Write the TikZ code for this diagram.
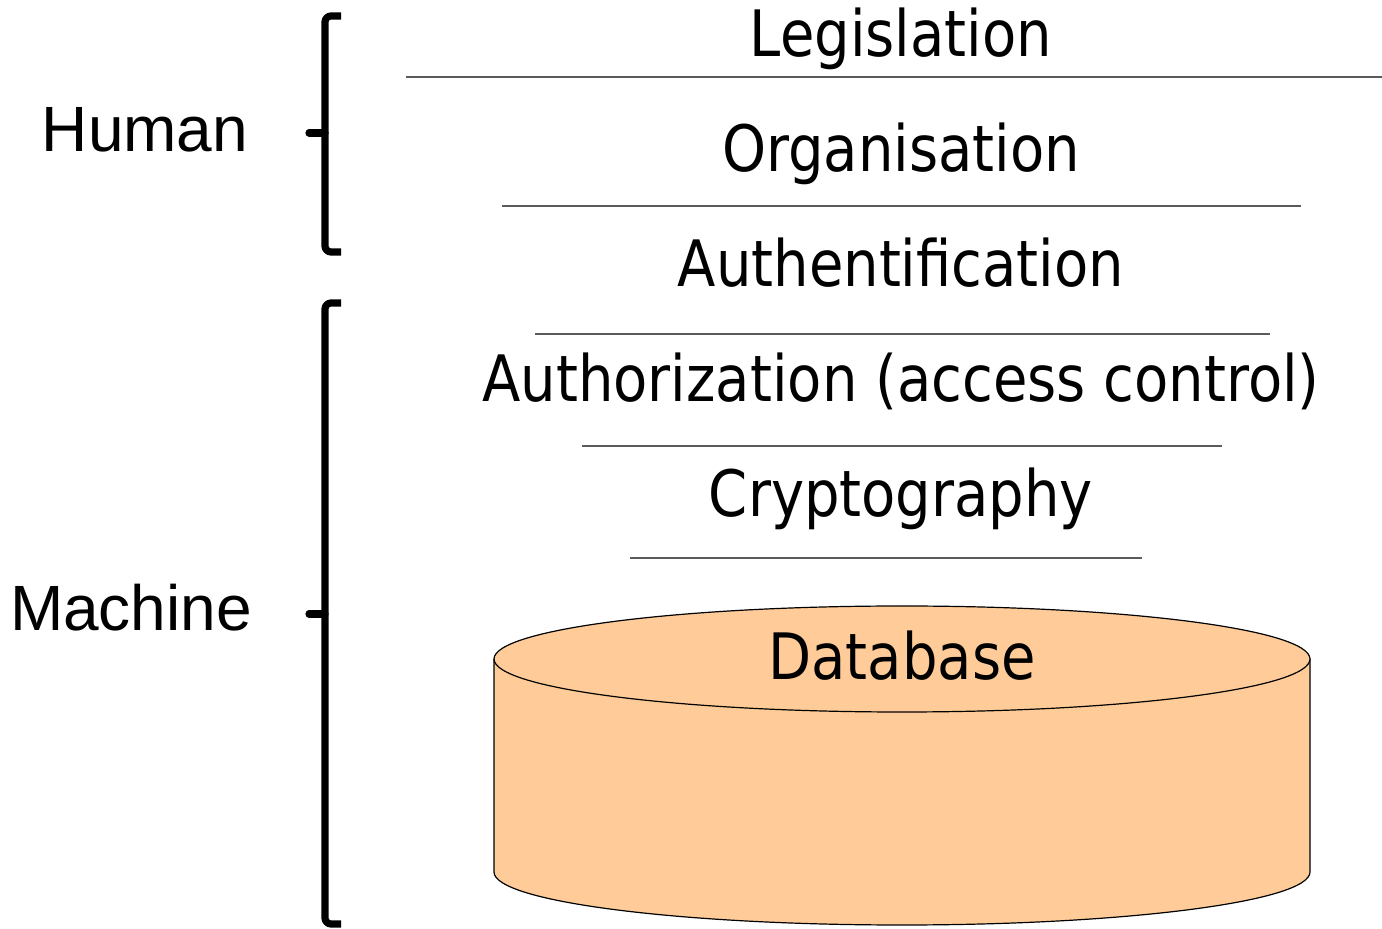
\documentclass[tikz,border=0pt]{standalone}
\usepackage{fontspec}
\setmainfont{DejaVu Sans}
\newfontfamily\sidefont{Liberation Sans}
\definecolor{dbfill}{RGB}{255,204,153}
\definecolor{rulegray}{RGB}{90,90,90}

\begin{document}
\begin{tikzpicture}[line join=round,x=0.5pt,y=-0.5pt,
		layer/.style={anchor=base,font=\fontsize{32}{38}\selectfont,xscale=0.875,inner sep=0pt},
		side/.style={anchor=base,font=\sidefont\fontsize{32}{38}\selectfont,inner sep=0pt},
		sep/.style={line width=1pt,color=rulegray},
		brace/.style={line width=3.6pt,rounded corners=3pt}]
				\useasboundingbox (0,0) rectangle (1382,929);
				% layers, top to bottom
				\node[layer] (legis) at (901,57) {Legislation};
				\draw[sep] (406,77) -- (1382,77);
				\node[layer] (orga) at (901,172) {Organisation};
				\draw[sep] (502,206) -- (1301,206);
				\node[layer] (authent) at (901,287) {Authentification};
				\draw[sep] (535,334) -- (1270,334);
				\node[layer] (author) at (901,402) {Authorization (access control)};
				\draw[sep] (582,446) -- (1222,446);
				\node[layer] (crypto) at (901,517) {Cryptography};
				\draw[sep] (630,558) -- (1142,558);
				% database cylinder
				\draw[fill=dbfill,line width=0.6pt] (494,659) -- (494,872)
					arc[start angle=180,end angle=360,x radius=204pt,y radius=26.5pt] -- (1310,659);
				\draw[fill=dbfill,line width=0.6pt] (902,659) ellipse [x radius=204pt,y radius=26.5pt];
				\node[layer] (db) at (902,680) {Database};
				% brackets
				\draw[brace] (341,16) -- (325,16) -- (325,252) -- (341,252);
				\draw[brace,rounded corners=0pt,line cap=round] (309,133) -- (325,133);
				\draw[brace] (341,303) -- (325,303) -- (325,924) -- (341,924);
				\draw[brace,rounded corners=0pt,line cap=round] (309,614) -- (325,614);
				\node[side] (human) at (145,152) {Human};
				\node[side] (machine) at (131,631) {Machine};
			\end{tikzpicture}
\end{document}
